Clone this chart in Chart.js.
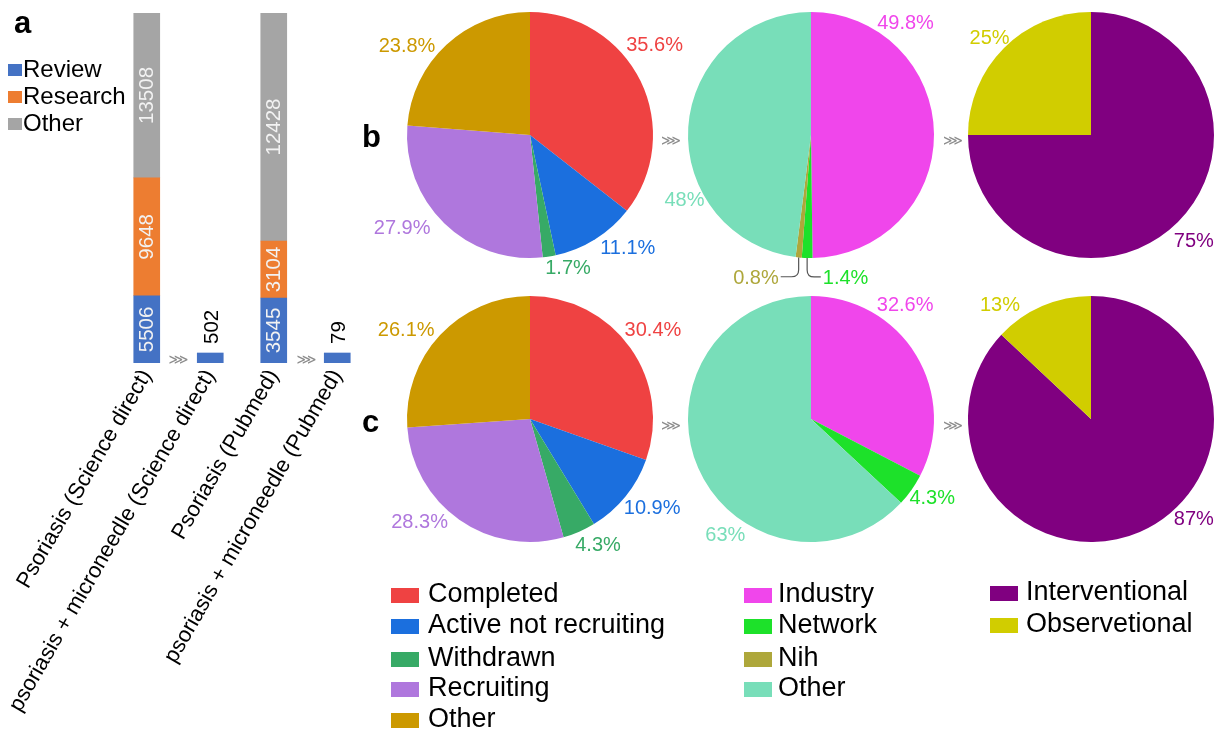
<!DOCTYPE html>
<html>
<head>
<meta charset="utf-8">
<script src="https://cdn.jsdelivr.net/npm/chart.js@4.4.1/dist/chart.umd.min.js"></script>
<style>
html, body { margin: 0; overflow: hidden; }
body { width: 1215px; height: 732px; background: #fff; position: relative; font-family: "Liberation Sans", Arial, sans-serif; color: #000; }
canvas { position: absolute; }
.txt { position: absolute; white-space: nowrap; }
.box { position: absolute; }
.arrow { position: absolute; font-family: "DejaVu Sans", sans-serif; font-size: 14px; line-height: 14px; color: #8c8c8c; transform: translate(-50%, -50%); }
</style>
</head>
<body>
<canvas id="bars" width="380" height="732" style="left:0;top:0"></canvas>
<div id="layer"></div>
<script>
// --- panel a : search results ---
const barCategories = ['Psoriasis (Science direct)', 'psoriasis + microneedle (Science direct)', 'Psoriasis (Pubmed)', 'psoriasis + microneedle (Pubmed)'];
const reviewCounts = [5506, 502, 3545, 79];
const researchCounts = [9648, null, 3104, null];
const otherCounts = [13508, null, 12428, null];
const parentIndex = [0, 0, 2, 2]; // filtered searches are drawn against their parent search

// --- panels b and c : clinical trials ---
const statusLabels = ['Completed', 'Active not recruiting', 'Withdrawn', 'Recruiting', 'Other'];
const statusB = [35.6, 11.1, 1.7, 27.9, 23.8];
const statusC = [30.4, 10.9, 4.3, 28.3, 26.1];
const funderLabels = ['Industry', 'Network', 'Nih', 'Other'];
const funderB = [49.8, 1.4, 0.8, 48];
const funderC = [32.6, 4.3, 0, 63];
const typeLabels = ['Interventional', 'Observetional'];
const typeB = [75, 25];
const typeC = [87, 13];

const barColors = ['#4472C4', '#ED7D31', '#A5A5A5'];
const statusColors = ['#EF4242', '#1B6FDE', '#37AA66', '#AF77DD', '#CC9900'];
const funderColors = ['#F046EB', '#1DE12A', '#AEA73B', '#78DEB9'];
const typeColors = ['#800080', '#D1CD00'];

const FONT = '"Liberation Sans", Arial, sans-serif';
const layer = document.getElementById('layer');

// put a text so that its baseline sits at y
function addText(txt, x, base, size, extra) {
    const d = document.createElement('div');
    d.className = 'txt';
    d.textContent = txt;
    d.style.left = x + 'px';
    d.style.top = (base - 0.8465 * size) + 'px';
    d.style.fontSize = size + 'px';
    d.style.lineHeight = size + 'px';
    if (extra) d.style.cssText += extra;
    layer.appendChild(d);
}
function addBox(color, x, y, w, h) {
    const d = document.createElement('div');
    d.className = 'box';
    d.style.cssText = `left:${x}px;top:${y}px;width:${w}px;height:${h}px;background:${color};`;
    layer.appendChild(d);
}
function addArrow(x, y) {
    const d = document.createElement('div');
    d.className = 'arrow';
    d.textContent = '\u22D9';
    d.style.left = x + 'px';
    d.style.top = y + 'px';
    layer.appendChild(d);
}

// ---------- stacked bars ----------
const searchTotals = reviewCounts.map((v, i) => v + (researchCounts[i] || 0) + (otherCounts[i] || 0));
function shareOf(counts) {
    return counts.map((v, i) => v == null ? null : v / searchTotals[parentIndex[i]] * 100);
}

const barLabels = {
    id: 'barLabels',
    afterDatasetsDraw(chart) {
        const ctx = chart.ctx;
        ctx.save();
        ctx.font = '20.5px ' + FONT;
        ctx.textBaseline = 'middle';
        chart.data.datasets.forEach((ds, di) => {
            chart.getDatasetMeta(di).data.forEach((bar, i) => {
                const n = ds.counts[i];
                if (n == null) return;
                const { x, y, base } = bar.getProps(['x', 'y', 'base'], true);
                ctx.save();
                if (parentIndex[i] === i) {
                    ctx.translate(x, (y + base) / 2);
                    ctx.rotate(-Math.PI / 2);
                    ctx.textAlign = 'center';
                    ctx.fillStyle = '#F2F2F2';
                } else {
                    ctx.translate(x + 1, y - 9);
                    ctx.rotate(-Math.PI / 2);
                    ctx.textAlign = 'left';
                    ctx.fillStyle = '#000';
                }
                ctx.fillText(String(n), 0, 1);
                ctx.restore();
            });
        });
        ctx.restore();
    }
};

new Chart(document.getElementById('bars'), {
    type: 'bar',
    data: {
        labels: barCategories,
        datasets: [
            { label: 'Review', data: shareOf(reviewCounts), counts: reviewCounts, backgroundColor: barColors[0], minBarLength: 10 },
            { label: 'Research', data: shareOf(researchCounts), counts: researchCounts, backgroundColor: barColors[1] },
            { label: 'Other', data: shareOf(otherCounts), counts: otherCounts, backgroundColor: barColors[2] }
        ]
    },
    options: {
        responsive: false,
        animation: false,
        layout: { padding: { top: 13, left: 115, right: 11, bottom: 0 } },
        datasets: { bar: { barThickness: 26, borderWidth: 0 } },
        plugins: { legend: { display: false }, tooltip: { enabled: false } },
        scales: {
            x: {
                stacked: true,
                grid: { display: false, drawTicks: false },
                border: { display: false },
                ticks: {
                    autoSkip: false,
                    minRotation: 60,
                    maxRotation: 60,
                    padding: 2,
                    color: '#000',
                    font: { size: 22, family: FONT }
                },
                afterFit(scale) {
                    scale.height = 369;
                    scale.paddingLeft = 0;
                    scale.paddingRight = 0;
                }
            },
            y: { stacked: true, display: false, min: 0, max: 100 }
        }
    },
    plugins: [barLabels]
});

// bar legend
['Review', 'Research', 'Other'].forEach((name, i) => {
    const base = 77 + i * 27;
    addBox(barColors[i], 8, base - 13, 14, 12);
    addText(name, 23, base, 24);
});

// ---------- pies ----------
const pieLabels = {
    id: 'pieLabels',
    afterDatasetsDraw(chart, args, opts) {
        const ctx = chart.ctx;
        const ds = chart.data.datasets[0];
        ctx.save();
        ctx.font = '20px ' + FONT;
        ctx.textAlign = 'center';
        ctx.textBaseline = 'middle';
        chart.getDatasetMeta(0).data.forEach((arc, i) => {
            const spot = opts.spots[i];
            if (!spot) return;
            const p = arc.getProps(['x', 'y', 'outerRadius', 'startAngle', 'endAngle'], true);
            const a = spot[0] * Math.PI / 180;
            const lx = p.x + spot[1] * Math.sin(a);
            const ly = p.y - spot[1] * Math.cos(a);
            const txt = ds.data[i] + '%';
            ctx.fillStyle = ds.backgroundColor[i];
            ctx.fillText(txt, lx, ly + 1);
            if (spot[2]) {
                const mid = (p.startAngle + p.endAngle) / 2;
                const sx = p.x + p.outerRadius * Math.cos(mid);
                const sy = p.y + p.outerRadius * Math.sin(mid);
                const side = lx > sx ? 1 : -1;
                const ex = lx - side * (ctx.measureText(txt).width / 2 + 2);
                const ey = ly - 1;
                ctx.strokeStyle = '#555';
                ctx.lineWidth = 1.2;
                ctx.beginPath();
                ctx.moveTo(sx, sy);
                ctx.lineTo(sx, ey - 7);
                ctx.quadraticCurveTo(sx, ey, sx + side * 7, ey);
                ctx.lineTo(ex, ey);
                ctx.stroke();
            }
        });
        ctx.restore();
    }
};

function makePie(cx, cy, labels, values, colors, spots) {
    const c = document.createElement('canvas');
    c.width = 420;
    c.height = 340;
    c.style.left = (cx - 210) + 'px';
    c.style.top = (cy - 170) + 'px';
    layer.appendChild(c);
    new Chart(c, {
        type: 'pie',
        data: { labels: labels, datasets: [{ data: values, backgroundColor: colors, borderWidth: 0 }] },
        options: {
            responsive: false,
            animation: false,
            layout: { padding: { left: 87, right: 87, top: 47, bottom: 47 } },
            plugins: { legend: { display: false }, tooltip: { enabled: false }, pieLabels: { spots: spots } }
        },
        plugins: [pieLabels]
    });
}

// label spots: [angle from 12 o'clock, distance from centre, leader line]
makePie(530, 135, statusLabels, statusB, statusColors, [[54, 154], [139, 149], [164, 138], [234, 158], [306, 152]]);
makePie(811, 135, funderLabels, funderB, funderColors, [[40, 147], [166.4, 147, true], [201.1, 153, true], [243, 142]]);
makePie(1091, 135, typeLabels, typeB, typeColors, [[135.6, 147], [314, 141]]);
makePie(530, 419, statusLabels, statusC, statusColors, [[54, 152], [126, 151], [151.6, 143], [227, 151], [306, 153]]);
makePie(811, 419, funderLabels, funderC, funderColors, [[39.5, 148], [123, 144.5], null, [216.5, 144]]);
makePie(1091, 419, typeLabels, typeC, typeColors, [[134, 143], [321.4, 146]]);

// arrows between steps
[[178.5, 358.5], [306.5, 358.5], [671, 139.5], [953, 139.5], [671, 425], [953, 425]].forEach(p => addArrow(p[0], p[1]));

// panel letters
addText('a', 14, 33, 31, 'font-weight:bold;');
addText('b', 362, 147, 31, 'font-weight:bold;');
addText('c', 362, 432, 31, 'font-weight:bold;');

// bottom legend
const legendCols = [
    { names: statusLabels, colors: statusColors, boxX: 391, textX: 428, bases: [603, 634, 667, 697, 728] },
    { names: funderLabels, colors: funderColors, boxX: 744, textX: 778, bases: [603, 634, 667, 697] },
    { names: typeLabels, colors: typeColors, boxX: 990, textX: 1026, bases: [601, 633] }
];
legendCols.forEach(col => {
    col.names.forEach((name, i) => {
        addBox(col.colors[i], col.boxX, col.bases[i] - 15, 28, 15);
        addText(name, col.textX, col.bases[i], 27);
    });
});
</script>
</body>
</html>
